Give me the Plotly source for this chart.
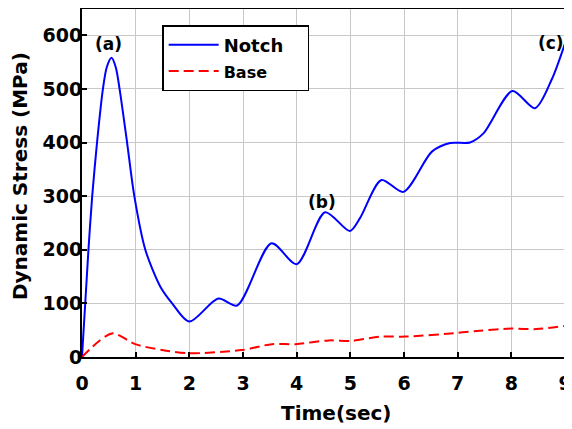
import plotly.graph_objects as go

notch_t = [0, 0.12, 0.19, 0.28, 0.39, 0.46, 0.55, 0.63, 0.70, 0.84, 0.975, 1.18, 1.46, 1.68, 2.0,
           2.54, 2.89, 3.53, 4.0, 4.53, 4.99, 5.18, 5.58, 5.99, 6.52, 6.86, 7.23, 7.48,
           8.02, 8.44, 8.75, 9.0]
notch_s = [0, 200, 300, 400, 500, 540, 558, 540, 500, 400, 300, 200, 131, 100, 66,
           109, 96, 212, 173, 270, 235, 259, 330, 308, 383, 399, 400, 417,
           496, 464, 517, 585]

base_t = [0, 0.56, 0.99, 1.49, 1.99, 2.98, 3.54, 3.98, 4.6, 5.02, 5.55, 6.02, 7.01, 7.41, 8.0, 8.47, 9.0]
base_s = [0, 44, 24, 13, 7, 13, 24, 24, 31, 30, 38, 38, 45, 49, 53, 52, 58]

labels = ["(a)", "(b)", "(c)"]
label_t = [0.5, 4.48, 8.73]
label_s = [584, 290, 586]

x_ticks = list(range(0, 10))
y_ticks = [0, 100, 200, 300, 400, 500, 600]

x_title = "Time(sec)"
y_title = "Dynamic Stress (MPa)"

FONT = "DejaVu Sans"

fig = go.Figure()
fig.add_trace(go.Scatter(x=notch_t, y=notch_s, mode="lines",
                         name="Notch&nbsp;&nbsp;&nbsp;",
                         line=dict(color="#0000ff", width=2, shape="spline", smoothing=0.8)))
fig.add_trace(go.Scatter(x=base_t, y=base_s, mode="lines",
                         name="<span style='font-size:16px'>Base</span>",
                         line=dict(color="#ff0000", width=2, dash="10px,5px", shape="spline", smoothing=0.8)))

for lab, t, s in zip(labels, label_t, label_s):
    fig.add_annotation(x=t, y=s, text=lab, showarrow=False,
                       font=dict(family=FONT, size=17, color="black", weight="bold"))

# axis titles
fig.add_annotation(x=0, y=0.52, xref="paper", yref="paper", xanchor="center", yanchor="middle",
                   xshift=-62, textangle=-90, text=y_title, showarrow=False,
                   font=dict(family=FONT, size=20, color="black", weight="bold"))
fig.add_annotation(x=0.527, y=0, xref="paper", yref="paper", xanchor="center", yanchor="middle",
                   yshift=-56, text=x_title, showarrow=False,
                   font=dict(family=FONT, size=20, color="black", weight="bold"))

axis_common = dict(showline=True, linecolor="black", linewidth=2, mirror=True,
                   ticks="inside", ticklen=5, tickwidth=2, tickcolor="black",
                   showgrid=True, gridcolor="#c8c8c8", gridwidth=1, zeroline=False,
                   automargin=False,
                   tickfont=dict(family=FONT, size=19, color="black", weight="bold"))

fig.update_xaxes(range=[0, 9], tickvals=x_ticks, ticklabelstandoff=8, **axis_common)
fig.update_yaxes(range=[0, 649], tickvals=y_ticks, ticklabelstandoff=-6, **axis_common)

fig.update_layout(
    width=564, height=421,
    margin=dict(l=74, r=7, t=1, b=72),
    plot_bgcolor="white", paper_bgcolor="white",
    legend=dict(x=0.166, y=0.954, xanchor="left", yanchor="top",
                bgcolor="white", bordercolor="black", borderwidth=1.5,
                font=dict(family=FONT, size=18, color="black", weight="bold"),
                itemwidth=50, tracegroupgap=0),
    showlegend=True,
)

fig.write_html("out.html")
